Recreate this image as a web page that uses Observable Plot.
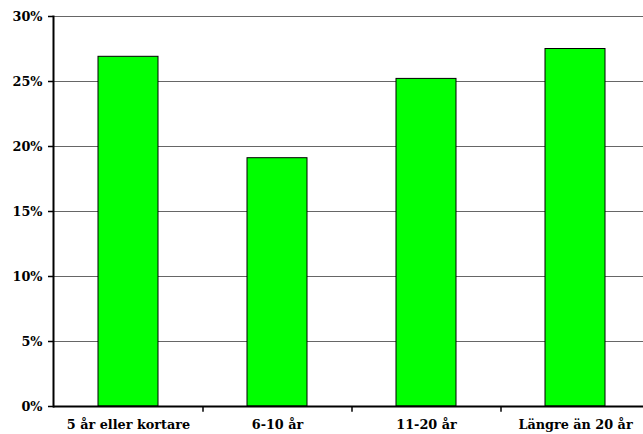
<!DOCTYPE html>
<html>
<head>
<meta charset="utf-8">
<script src="https://cdn.jsdelivr.net/npm/d3@7"></script>
<script src="https://cdn.jsdelivr.net/npm/@observablehq/plot@0.6"></script>
<style>
body { margin: 0; background: #fff; }
svg text { font-family: "DejaVu Serif", serif; font-weight: bold; }
</style>
</head>
<body>
<div id="chart"></div>
<script>
const categories = ["5 år eller kortare", "6-10 år", "11-20 år", "Längre än 20 år"];
const values = [26.9, 19.1, 25.2, 27.5];
const yTicks = [0, 5, 10, 15, 20, 25, 30];

const data = categories.map((c, i) => ({category: c, value: values[i]}));
const font = "DejaVu Serif, serif";

const chart = Plot.plot({
  width: 643,
  height: 434,
  marginLeft: 53,
  marginRight: 0,
  marginTop: 16,
  marginBottom: 28,
  style: {fontFamily: font, fontWeight: "bold", fontSize: "12.8px", color: "#000", background: "#fff"},
  x: {domain: categories, range: [53, 649], paddingInner: 0.6, paddingOuter: 0.3, label: null},
  y: {domain: [0, 30], label: null},
  marks: [
    Plot.ruleY(yTicks.filter(d => d > 0), {stroke: "#666", strokeWidth: 1}),
    Plot.barY(data, {x: "category", y: "value", fill: "#00ff00", stroke: "#000", strokeWidth: 1}),
    Plot.ruleX(categories.slice(0, 3), {x: d => d, dx: 74.5, y1: 0, y2: -0.45, stroke: "#000", strokeWidth: 1.5}),
    Plot.ruleY([0], {stroke: "#000", strokeWidth: 2}),
    Plot.frame({anchor: "left", stroke: "#000", strokeWidth: 2}),
    Plot.axisY({ticks: yTicks, tickFormat: d => d + "%", tickSize: 5, tickPadding: 6, label: null, strokeWidth: 1.5, fontWeight: "bold", fontSize: 12.8}),
    Plot.axisX({tickSize: 0, tickPadding: 13, label: null, fontWeight: "bold", fontSize: 12.8})
  ]
});
document.getElementById("chart").appendChild(chart);
</script>
</body>
</html>
